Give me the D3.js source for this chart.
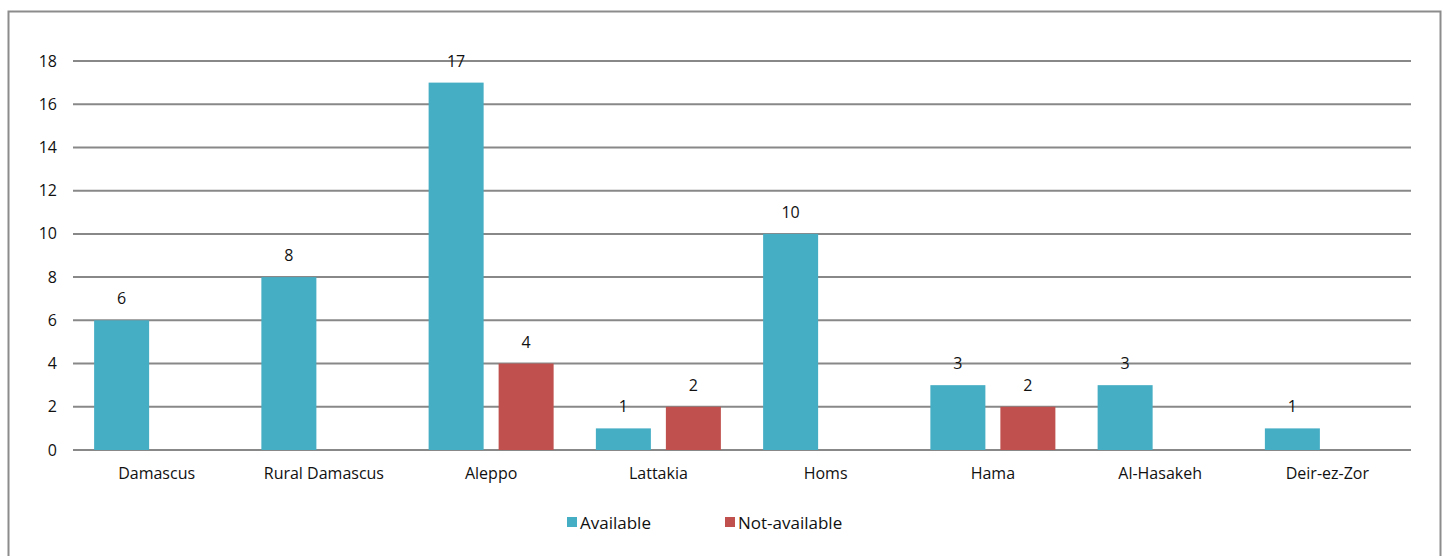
<!DOCTYPE html>
<html>
<head>
<meta charset="utf-8">
<script src="https://cdn.jsdelivr.net/npm/d3@7"></script>
<style>
  body { margin: 0; background: #fff; }
  text { font-family: "Open Sans", "DejaVu Sans", sans-serif; fill: #111; }
</style>
</head>
<body>
<svg id="main" width="1446" height="556"></svg>
<script>
// data
var regions = ["Damascus", "Rural Damascus", "Aleppo", "Lattakia", "Homs", "Hama", "Al-Hasakeh", "Deir-ez-Zor"]
var available = [6, 8, 17, 1, 10, 3, 3, 1]
var notAvailable = [0, 0, 4, 2, 0, 2, 0, 0]
var seriesNames = ["Available", "Not-available"]
var seriesColors = ["#45adc4", "#c0504d"]
var yTicks = [0, 2, 4, 6, 8, 10, 12, 14, 16, 18]

var svg = d3.select('#main')
var plotLeft = 73, plotRight = 1411, plotTop = 61, plotBottom = 450

// outer frame
svg.append('rect')
    .attr('x', 8.5).attr('y', 11.5)
    .attr('width', 1432).attr('height', 600)
    .attr('fill', 'none')
    .attr('stroke', '#8c8c8c')
    .attr('stroke-width', 2)

var x = d3.scaleBand().domain(regions).range([plotLeft, plotRight])
var y = d3.scaleLinear().domain([0, 18]).range([plotBottom, plotTop])

// gridlines + y labels
svg.append('g').selectAll('line').data(yTicks).enter().append('line')
    .attr('x1', plotLeft).attr('x2', plotRight)
    .attr('y1', function(d) { return y(d) }).attr('y2', function(d) { return y(d) })
    .attr('stroke', '#888').attr('stroke-width', 2)
svg.append('g').selectAll('text').data(yTicks).enter().append('text')
    .attr('x', 57).attr('y', function(d) { return y(d) })
    .attr('dy', '0.35em')
    .attr('text-anchor', 'end')
    .style('font-size', '16px')
    .text(function(d) { return d })

var barW = 55, gap = 15
var sub = d3.scaleOrdinal().domain([0, 1]).range([-(gap / 2 + barW), gap / 2])

var rows = regions.map(function(r, i) {
    return [
        { region: r, s: 0, value: available[i] },
        { region: r, s: 1, value: notAvailable[i] }
    ]
})
var flat = [].concat.apply([], rows)

var bars = svg.append('g').selectAll('g').data(flat.filter(function(d) { return d.value > 0 })).enter().append('g')
bars.append('rect')
    .attr('x', function(d) { return x(d.region) + x.bandwidth() / 2 + sub(d.s) })
    .attr('y', function(d) { return y(d.value) })
    .attr('width', barW)
    .attr('height', function(d) { return y(0) - y(d.value) })
    .attr('fill', function(d) { return seriesColors[d.s] })
bars.append('text')
    .attr('x', function(d) { return x(d.region) + x.bandwidth() / 2 + sub(d.s) + barW / 2 })
    .attr('y', function(d) { return y(d.value) - 16 })
    .attr('text-anchor', 'middle')
    .style('font-size', '16px')
    .text(function(d) { return d.value })

// category labels
svg.append('g').selectAll('text').data(regions).enter().append('text')
    .attr('x', function(d) { return x(d) + x.bandwidth() / 2 })
    .attr('y', 479)
    .attr('text-anchor', 'middle')
    .style('font-size', '16px')
    .text(function(d) { return d })

// legend
var legX = [567, 725]
var leg = svg.append('g').selectAll('g').data(seriesNames).enter().append('g')
leg.append('rect')
    .attr('x', function(_, i) { return legX[i] })
    .attr('y', 517).attr('width', 10).attr('height', 10)
    .attr('fill', function(_, i) { return seriesColors[i] })
leg.append('text')
    .attr('x', function(_, i) { return legX[i] + 13 })
    .attr('y', 529)
    .style('font-size', '17px')
    .text(function(d) { return d })
</script>
</body>
</html>
